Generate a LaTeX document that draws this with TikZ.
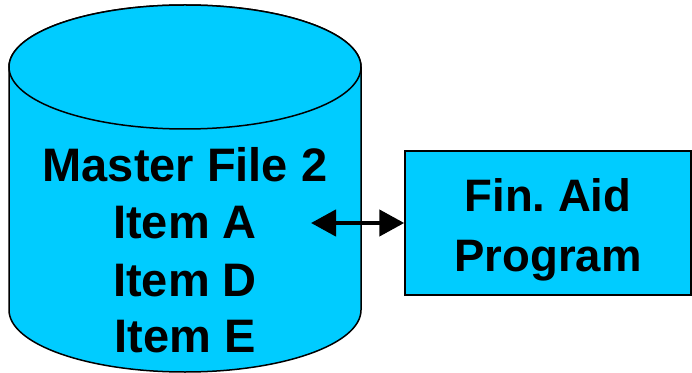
\documentclass[tikz,border=0pt]{standalone}
\usepackage{fontspec}
\setmainfont{Liberation Sans}
\usetikzlibrary{arrows.meta}
\definecolor{skyfill}{RGB}{0,204,255}
\tikzset{
  solid outline/.style={draw=black, line width=1.5pt},
  bigtext/.style={font=\bfseries\fontsize{47}{57}\selectfont, anchor=base, inner sep=0pt},
  boxtext/.style={font=\bfseries\fontsize{45.5}{59}\selectfont, anchor=base, inner sep=0pt},
  link/.style={line width=4.5pt, {Triangle[length=25pt 0,width=26pt 0]}-{Triangle[length=25pt 0,width=26pt 0]}}
}
\begin{document}
\begin{tikzpicture}[x=1pt,y=1pt]
\useasboundingbox (0,0) rectangle (692,372);
\begin{scope}
\clip (0,0) rectangle (692,372);
% cylinder body
\filldraw[fill=skyfill, solid outline]
  (9,305) -- (9,62) arc[start angle=180, end angle=360, x radius=176, y radius=62]
  -- (361,305) arc[start angle=0, end angle=180, x radius=176, y radius=62] -- cycle;
% cylinder lid
\filldraw[fill=skyfill, solid outline] (185,305) ellipse[x radius=176, y radius=62];
\end{scope}
% file contents
\node[bigtext] (title) at (185,190) {Master File 2};
\node[bigtext] (itemA) at (185,133) {Item A};
\node[bigtext] (itemD) at (185,76) {Item D};
\node[bigtext] (itemE) at (185,20) {Item E};
% program box
\node[fill=skyfill, solid outline, minimum width=286pt, minimum height=144pt, inner sep=0pt] (fin) at (548,149) {};
\node[boxtext] (finA) at (548,160) {Fin.\ Aid};
\node[boxtext] (finB) at (548,101) {Program};
% two-way link
\coordinate (linkend) at (311,149);
\draw[link] (linkend) -- (fin.west);
\end{tikzpicture}
\end{document}
